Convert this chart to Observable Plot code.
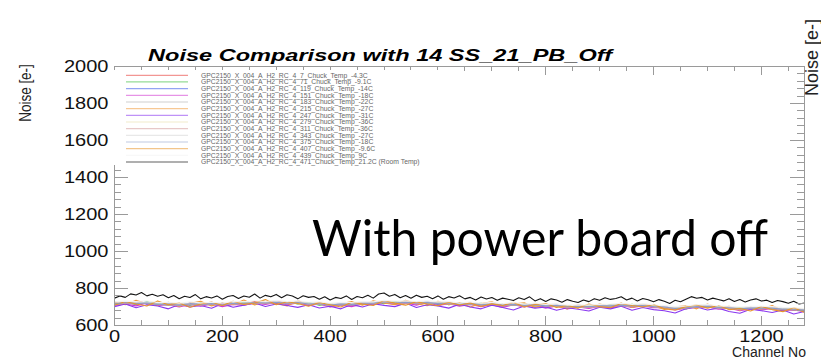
<!DOCTYPE html>
<html><head><meta charset="utf-8">
<script src="https://cdn.jsdelivr.net/npm/d3@7"></script>
<script src="https://cdn.jsdelivr.net/npm/@observablehq/plot@0.6"></script>
<style>
body{margin:0;background:#fff;}
#chart{position:relative;width:821px;height:359px;overflow:hidden;}
</style>
</head><body><div id="chart"></div>
<script>
const titleText = "Noise Comparison with 14 SS_21_PB_Off";
const yLabel = "Noise [e-]";
const xLabel = "Channel No";
const noteText = "With power board off";
const yTicks = [600, 800, 1000, 1200, 1400, 1600, 1800, 2000];
const xTicks = [0, 200, 400, 600, 800, 1000, 1200];

const channels = [0,20,40,60,80,100,120,140,160,180,200,220,240,260,280,300,320,340,360,380,400,420,440,460,480,500,520,540,560,580,600,620,640,660,680,700,720,740,760,780,800,820,840,860,880,900,920,940,960,980,1000,1020,1040,1060,1080,1100,1120,1140,1160,1180,1200,1220,1240,1260,1280];
const channelsFine = [0,10,20,30,40,50,60,70,80,90,100,110,120,130,140,150,160,170,180,190,200,210,220,230,240,250,260,270,280,290,300,310,320,330,340,350,360,370,380,390,400,410,420,430,440,450,460,470,480,490,500,510,520,530,540,550,560,570,580,590,600,610,620,630,640,650,660,670,680,690,700,710,720,730,740,750,760,770,780,790,800,810,820,830,840,850,860,870,880,890,900,910,920,930,940,950,960,970,980,990,1000,1010,1020,1030,1040,1050,1060,1070,1080,1090,1100,1110,1120,1130,1140,1150,1160,1170,1180,1190,1200,1210,1220,1230,1240,1250,1260,1270,1280];

const names = [
 "GPC2150_X_004_A_H2_RC_4_7_Chuck_Temp_-4.3C",
 "GPC2150_X_004_A_H2_RC_4_71_Chuck_Temp_-9.1C",
 "GPC2150_X_004_A_H2_RC_4_119_Chuck_Temp_-14C",
 "GPC2150_X_004_A_H2_RC_4_151_Chuck_Temp_-18C",
 "GPC2150_X_004_A_H2_RC_4_183_Chuck_Temp_-22C",
 "GPC2150_X_004_A_H2_RC_4_215_Chuck_Temp_-27C",
 "GPC2150_X_004_A_H2_RC_4_247_Chuck_Temp_-31C",
 "GPC2150_X_004_A_H2_RC_4_279_Chuck_Temp_-36C",
 "GPC2150_X_004_A_H2_RC_4_311_Chuck_Temp_-36C",
 "GPC2150_X_004_A_H2_RC_4_343_Chuck_Temp_-27C",
 "GPC2150_X_004_A_H2_RC_4_375_Chuck_Temp_-18C",
 "GPC2150_X_004_A_H2_RC_4_407_Chuck_Temp_-9.6C",
 "GPC2150_X_004_A_H2_RC_4_439_Chuck_Temp_9C",
 "GPC2150_X_004_A_H2_RC_4_471_Chuck_Temp_21.2C (Room Temp)"
];
const colors = ["#e8403a","#40c040","#3a5ae8","#d23ad2","#a8a8a8","#f09a3c","#8a38f0","#e6dca0","#d49a9a","#d6d6d6","#8c9cc8","#e8952c","#f2f2f2","#141414"];

const s01 = [725,718,730,722,712,720,706,722,710,724,708,726,716,730,720,734,718,728,712,722,706,718,710,726,716,732,720,728,718,726,716,724,710,722,708,720,706,718,704,716,702,710,698,706,696,712,702,716,704,712,698,704,688,700,698,708,694,700,686,698,690,700,686,690,680];
const s02 = [716,726,714,728,718,712,718,710,722,712,720,714,726,716,730,720,728,716,724,710,716,708,722,714,728,718,730,720,728,716,726,712,722,714,720,708,718,710,716,706,714,702,708,696,706,700,712,704,714,702,710,694,698,690,708,698,704,690,696,688,700,688,694,682,688];
const s03 = [712,722,716,726,710,718,708,720,710,718,706,722,714,724,718,728,716,726,712,720,704,716,708,722,716,730,718,726,716,728,714,722,708,720,710,716,704,718,706,714,700,710,696,704,698,708,700,712,700,710,700,702,688,698,700,706,692,698,684,696,690,696,684,688,678];
const s04 = [708,716,706,722,708,712,700,714,704,716,702,714,710,720,714,724,712,722,708,716,700,710,702,716,712,726,714,722,710,724,708,718,704,714,702,712,698,712,700,710,694,706,690,700,692,704,694,708,698,706,696,698,684,694,698,702,688,694,680,690,684,692,680,684,674];
const s05 = [720,714,724,718,716,708,716,712,718,710,720,712,722,718,726,720,724,718,720,714,714,710,718,714,724,722,726,718,726,718,724,716,718,712,716,710,714,708,712,706,710,702,704,698,704,700,710,704,712,704,706,696,694,692,706,698,700,692,692,690,698,688,692,684,686];
const s06 = [728,712,736,718,709,726,703,720,731,706,722,714,738,711,729,720,706,733,716,724,702,718,729,710,734,722,712,737,718,707,731,713,724,700,719,728,705,716,723,698,714,706,690,712,699,716,704,722,697,713,706,686,700,708,690,716,695,704,682,699,689,708,680,694,686];
const s07 = [702,716,696,712,705,690,714,700,708,693,717,699,710,722,703,716,708,698,712,695,704,690,713,700,718,709,702,721,697,712,706,694,715,700,690,709,697,684,705,694,700,682,696,688,678,699,690,704,682,697,686,680,668,690,700,684,694,676,666,688,680,670,684,662,676];
const s08 = [718,722,720,724,714,716,710,718,712,718,712,720,718,724,722,726,720,726,716,718,710,716,714,722,720,728,722,724,722,726,720,720,714,720,712,718,710,716,708,714,706,708,700,702,700,706,706,710,704,710,702,700,690,698,702,704,696,696,688,696,694,694,688,688,682];
const s09 = [712,720,716,722,712,714,706,716,710,716,708,718,714,722,718,726,716,724,714,716,708,714,710,720,716,726,720,722,718,724,716,718,712,716,708,716,706,712,706,712,704,704,698,700,698,702,704,708,702,706,700,698,688,694,700,702,694,694,686,692,690,692,686,686,680];
const s10 = [722,726,724,726,720,718,716,720,718,720,716,724,722,726,726,730,724,728,720,722,714,720,718,724,724,730,726,728,726,728,722,724,718,722,716,720,714,718,712,716,710,712,704,706,704,708,710,714,708,712,706,702,696,700,706,708,700,698,694,698,698,696,692,690,688];
const s11 = [716,724,718,722,714,716,710,718,714,718,712,720,718,724,722,726,720,724,716,718,710,716,714,720,720,728,722,726,722,724,718,722,714,718,712,716,710,714,708,712,706,708,702,702,702,706,706,710,706,708,702,700,692,696,702,704,698,696,690,694,694,694,688,688,684];
const s12 = [710,730,716,705,733,712,722,699,716,727,708,731,714,722,740,712,728,719,704,724,712,700,726,716,708,735,721,710,729,716,707,726,711,722,703,717,708,725,700,714,719,697,708,694,716,702,696,719,708,700,714,690,684,702,711,694,708,686,692,678,703,686,675,696,670];
const s13 = [728,732,730,734,724,726,720,728,722,726,722,730,728,734,730,736,730,734,726,728,720,726,724,730,728,736,732,734,730,734,728,730,722,728,720,726,718,724,716,722,714,718,710,712,710,714,716,720,714,718,712,708,702,706,712,714,706,704,700,704,704,702,698,696,692];
// room-temperature run, read at a finer channel step
const s14 = [748,760,752,771,765,778,760,769,758,766,750,
 762,745,758,751,767,744,756,749,760,742,
 757,762,746,759,753,770,748,763,755,768,
 750,766,759,744,761,752,757,742,755,738,
 752,746,760,741,757,750,763,748,770,776,
 758,768,750,762,747,764,752,758,745,760,
 742,756,749,761,744,752,738,754,743,751,
 736,748,742,735,750,740,755,733,745,730,
 744,738,726,740,731,724,738,729,745,736,
 750,741,746,755,738,748,733,746,739,728,
 740,731,719,736,728,742,756,747,752,738,
 748,741,733,745,730,740,727,738,744,732,
 737,724,735,729,720,731,716,722];

const seriesValues = [s01,s02,s03,s04,s05,s06,s07,s08,s09,s10,s11,s12,s13,s14];
const seriesChannels = [channels,channels,channels,channels,channels,channels,channels,channels,channels,channels,channels,channels,channels,channelsFine];
seriesValues.forEach((s,k)=>{ if (s.length !== seriesChannels[k].length) throw new Error("series "+(k+1)+" has "+s.length+" values"); });

const rows = [];
seriesValues.forEach((vals,k)=>vals.forEach((v,i)=>rows.push({ch:seriesChannels[k][i], noise:v, run:names[k], k})));

const FONT = "Liberation Sans, Arial, Helvetica, sans-serif";
const plot = Plot.plot({
  width: 821, height: 359,
  marginLeft: 114, marginRight: 17, marginTop: 66, marginBottom: 34,
  style: {fontFamily: FONT, background: "#fff", color: "#000"},
  x: {domain: [0, 1280], axis: null},
  y: {domain: [600, 2000], axis: null},
  marks: [
    ...names.map((n,k)=>Plot.lineY(rows.filter(r=>r.k===k), {x:"ch", y:"noise", stroke: colors[k], strokeWidth: 1.1})),
    Plot.frame({stroke: "#9a9a9a"}),
    Plot.axisY(yTicks, {anchor:"left", tickSize:0, tickPadding:6, fontSize:16, label:null, fill:"#111", tickFormat: d => String(d)}),
    Plot.axisX(xTicks, {anchor:"bottom", tickSize:0, tickPadding:5, fontSize:16, label:null, fill:"#111", tickFormat: d => String(d)})
  ]
});
document.getElementById("chart").appendChild(plot);

const svg = d3.select(plot);
const sxS = plot.scale("x"), syS = plot.scale("y");
const sx = d3.scaleLinear(sxS.domain, sxS.range);
const sy = d3.scaleLinear(syS.domain, syS.range);
const [x0, x1] = sx.range();
const [yb, yt] = sy.range();

function stretch(sel, k) {
  sel.each(function(){
    const t = this.getAttribute("transform");
    if (t) this.setAttribute("transform", t + ` scale(${k},1)`);
    else {
      const x = +(this.getAttribute("x")||0), y = +(this.getAttribute("y")||0);
      this.setAttribute("transform", `translate(${x},${y}) scale(${k},1) translate(${-x},${-y})`);
    }
  });
}
stretch(svg.selectAll('g[aria-label="y-axis tick label"] text'), 1.25);
stretch(svg.selectAll('g[aria-label="x-axis tick label"] text'), 1.25);

// ROOT-style inward ticks on all four sides
const tg = svg.append("g").attr("stroke", "#9a9a9a").attr("stroke-width", 1);
d3.range(600, 2000.1, 40).forEach(v => {
  const L = yTicks.includes(v) ? 14 : 7;
  const y = Math.round(sy(v)) + 0.5;
  tg.append("line").attr("x1", x0).attr("x2", x0 + L).attr("y1", y).attr("y2", y);
  tg.append("line").attr("x1", x1).attr("x2", x1 - L).attr("y1", y).attr("y2", y);
});
d3.range(0, 1280.1, 50).forEach(v => {
  const L = v % 200 === 0 ? 9 : 5;
  const x = Math.round(sx(v)) + 0.5;
  tg.append("line").attr("x1", x).attr("x2", x).attr("y1", yb).attr("y2", yb - L);
  tg.append("line").attr("x1", x).attr("x2", x).attr("y1", yt).attr("y2", yt + L);
});

// legend box
const lg = svg.append("g").attr("text-anchor", "start");
lg.append("rect").attr("x", 111).attr("y", 70).attr("width", 345).attr("height", 95).attr("fill", "#fff");
names.forEach((n,k) => {
  const y = 75.3 + k * 6.67;
  lg.append("line").attr("x1", 126).attr("x2", 188).attr("y1", y).attr("y2", y)
    .attr("stroke", colors[k]).attr("stroke-opacity", k === 13 ? 0.45 : 0.55).attr("stroke-width", k === 13 ? 1.6 : 1.2);
  lg.append("text").attr("x", 201).attr("y", y + 2.4).attr("font-size", 6.8).attr("fill", "#666")
    .attr("text-anchor", "start").attr("font-family", FONT).text(n);
});

// title
svg.append("text").attr("x", 148).attr("y", 60.5).attr("font-family", FONT).attr("text-anchor", "start")
  .attr("font-weight", "bold").attr("font-style", "italic").attr("font-size", 17)
  .attr("textLength", 464).attr("lengthAdjust", "spacingAndGlyphs").attr("fill", "#000").text(titleText);

// axis titles
svg.append("text").attr("transform", "translate(31,93) scale(1.25,1) rotate(-90)")
  .attr("text-anchor", "middle").attr("font-family", FONT).attr("font-size", 13.5).attr("fill", "#222").text(yLabel);
svg.append("text").attr("x", 806).attr("y", 357).attr("text-anchor", "end")
  .attr("font-family", FONT).attr("font-size", 14).attr("fill", "#222").text(xLabel);

// neighbouring panel's axis title, cut at the right edge
svg.append("text").attr("transform", "translate(818,96) rotate(-90)").attr("text-anchor", "start")
  .attr("font-family", FONT).attr("font-size", 18).attr("fill", "#222").text(yLabel);

// slide annotation
svg.append("text").attr("x", 312).attr("y", 256).attr("text-anchor", "start").attr("font-family", "Lato, 'Open Sans', sans-serif")
  .attr("font-size", 50).attr("textLength", 456).attr("lengthAdjust", "spacingAndGlyphs")
  .attr("fill", "#000").text(noteText);
</script>
</body></html>
